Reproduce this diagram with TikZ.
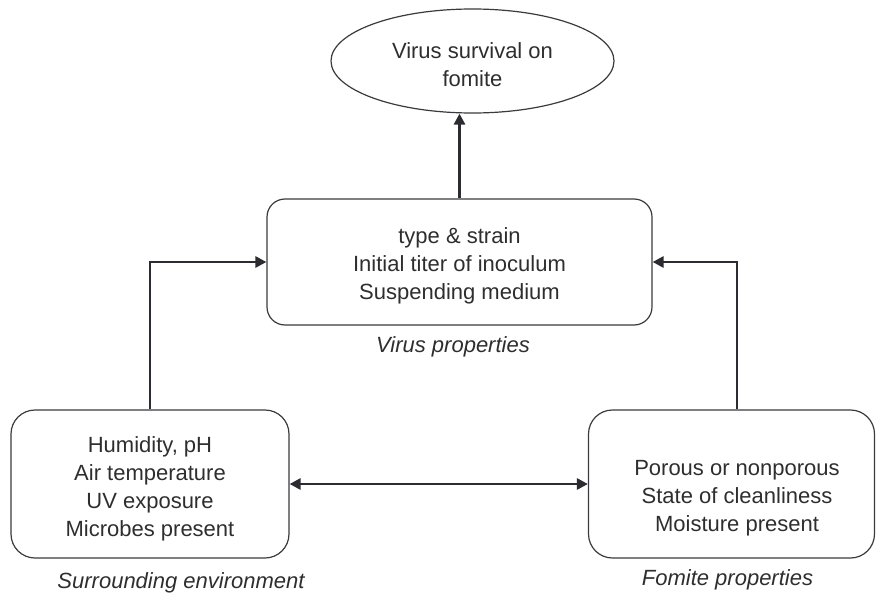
\documentclass[tikz,border=0pt]{standalone}
\usepackage{fontspec}
\setmainfont{Liberation Sans}
\usetikzlibrary{shapes.geometric,arrows.meta}
\definecolor{txt}{HTML}{2E2E2E}
\definecolor{edge}{HTML}{3A3A3F}
\definecolor{conn}{HTML}{2B2B31}
\tikzset{
  every node/.style={text=txt, font=\fontsize{22}{28}\selectfont},
  box/.style={draw=edge, line width=1.2pt, rectangle, inner sep=0pt},
  ellbox/.style={draw=edge, line width=1.2pt, ellipse, inner sep=0pt},
  body/.style={align=center, inner sep=0pt},
  caption/.style={font=\fontsize{22}{28}\selectfont\itshape},
  conn/.style={draw=conn, line width=2.8pt, -{Triangle[length=11pt,width=11pt]}},
  dconn/.style={draw=conn, line width=2.8pt, {Triangle[length=11pt,width=11pt]}-{Triangle[length=11pt,width=11pt]}}
}
\begin{document}
\begin{tikzpicture}[x=1pt,y=-1pt]
\useasboundingbox (0,0) rectangle (876,597);
\node[ellbox, minimum width=283pt, minimum height=104pt] (ell) at (472.5,61) {};
\node[body] (elltext) at (472.5,65) {Virus survival on\\fomite};
\node[box, rounded corners=18pt, minimum width=385pt, minimum height=126pt] (mid) at (459.5,262) {};
\node[body] (midtext) at (459.5,266) {type \& strain\\Initial titer of inoculum\\Suspending medium};
\node[box, rounded corners=24pt, minimum width=278pt, minimum height=148pt] (env) at (150,484) {};
\node[body] (envtext) at (150,488.5) {Humidity, pH\\Air temperature\\UV exposure\\Microbes present};
\node[box, rounded corners=24pt, minimum width=286pt, minimum height=148pt] (fom) at (731.5,484) {};
\node[body] (fomtext) at (737,498.5) {Porous or nonporous\\State of cleanliness\\Moisture present};
\node[caption] (capv) at (453,347) {Virus properties};
\node[caption] (cape) at (181,583) {Surrounding environment};
\node[caption] (capf) at (727.5,579.5) {Fomite properties};
\coordinate (fomtop) at ([xshift=5.5pt]fom.north);
\draw[conn] (mid.north) -- (mid.north |- ell.south);
\draw[conn] (env.north) |- (mid.west);
\draw[conn] (fomtop) |- (mid.east);
\draw[dconn] (env.east) -- (fom.west);
\end{tikzpicture}
\end{document}
